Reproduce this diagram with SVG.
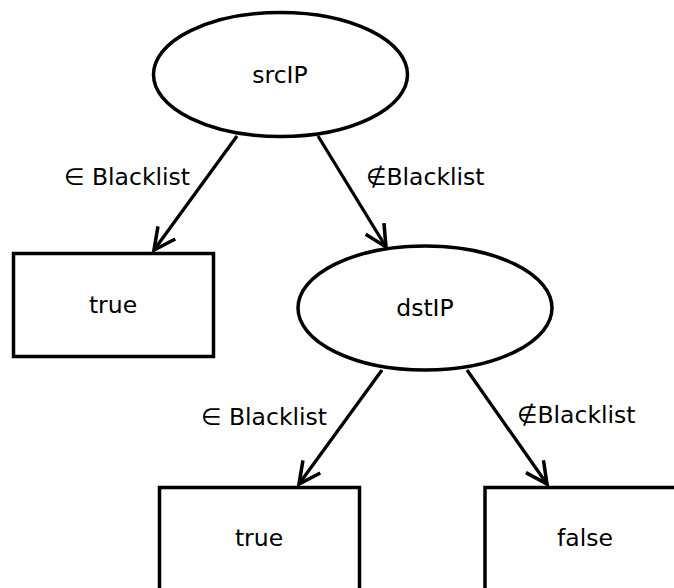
<svg xmlns="http://www.w3.org/2000/svg" width="674" height="588" viewBox="0 0 674 588">
<style>
.n{fill:#fff;stroke:#000;stroke-width:3.5}
.t{font-family:"DejaVu Sans",sans-serif;font-size:23.5px;fill:#000;text-anchor:middle}
.l{font-family:"DejaVu Sans",sans-serif;font-size:23.5px;fill:#000}
.e{fill:none;stroke:#000;stroke-width:3.3;marker-end:url(#ah)}
</style>
<defs>
<marker id="ah" markerUnits="userSpaceOnUse" orient="auto" refX="0" refY="0" markerWidth="30" markerHeight="30" viewBox="-24 -14 28 28" overflow="visible">
<path d="M-20,-10 L0,0 L-20,10" fill="none" stroke="#000" stroke-width="3.3"/>
</marker>
</defs>
<rect width="674" height="588" fill="#fff"/>
<g id="srcIP"><ellipse class="n" cx="280.5" cy="74.5" rx="127" ry="62"/><text class="t" x="280" y="83">srcIP</text></g>
<g id="true1"><rect class="n" x="13.5" y="253.5" width="200" height="103"/><text class="t" x="113" y="313">true</text></g>
<g id="dstIP"><ellipse class="n" cx="425" cy="308" rx="127" ry="62"/><text class="t" x="425" y="316">dstIP</text></g>
<g id="true2"><rect class="n" x="159.5" y="487.5" width="200" height="110"/><text class="t" x="259" y="546">true</text></g>
<g id="false"><rect class="n" x="485" y="487.5" width="200" height="110"/><text class="t" x="585" y="546">false</text></g>
<g id="edges">
<path class="e" d="M237,136 L154,250"/>
<path class="e" d="M318,136 L386,247"/>
<path class="e" d="M382,370 L299,484"/>
<path class="e" d="M467,370 L547,484"/>
<text class="l" x="64" y="185">∈ Blacklist</text>
<text class="l" x="366" y="185">∉Blacklist</text>
<text class="l" x="201" y="425">∈ Blacklist</text>
<text class="l" x="517" y="423">∉Blacklist</text>
</g>
</svg>
